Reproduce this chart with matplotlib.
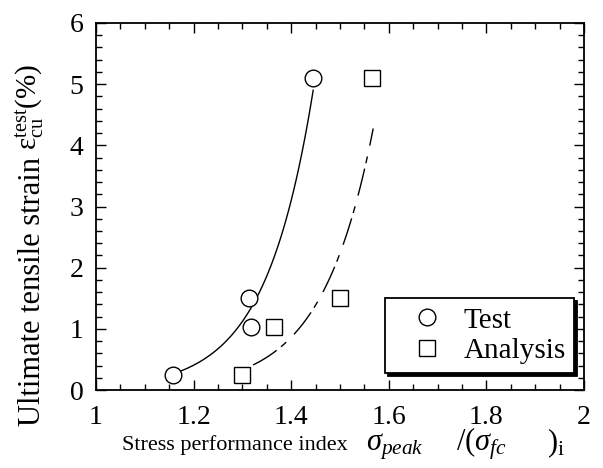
import numpy as np
import matplotlib
matplotlib.use('Agg')
import matplotlib.pyplot as plt
from matplotlib.ticker import MultipleLocator

plt.rcParams['font.family'] = ['Liberation Serif', 'DejaVu Serif']
plt.rcParams['mathtext.fontset'] = 'custom'
plt.rcParams['mathtext.rm'] = 'Liberation Serif'
plt.rcParams['mathtext.it'] = 'Liberation Serif:italic'

# data
test_x = [1.157, 1.313, 1.317, 1.445]
test_y = [0.25, 1.50, 1.03, 5.10]
anal_x = [1.300, 1.365, 1.499, 1.566]
anal_y = [0.25, 1.03, 1.50, 5.10]

# fitted exponential curves y = a*exp(b*(x-x0))
test_fit = (0.27, 10.17, 1.16, 1.445)   # a, b, x0, x1
anal_fit = (0.41, 9.53, 1.322, 1.568)

W, H = 603, 468
fig = plt.figure(figsize=(W / 100, H / 100), dpi=100)
ax = fig.add_axes([96 / W, 1 - 390 / H, 488 / W, 367 / H])

def fit_curve(p):
    a, b, x0, x1 = p
    xs = np.linspace(x0, x1, 100)
    return xs, a * np.exp(b * (xs - x0))

xs, ys = fit_curve(test_fit)
ax.plot(xs, ys, color='black', lw=1.0)
xs, ys = fit_curve(anal_fit)
ax.plot(xs, ys, color='black', lw=1.0, dashes=(20, 4, 5, 8))

ax.plot(test_x, test_y, 'o', ms=12, mfc='white', mec='black', mew=1.0,
        label='Test', zorder=3)
ax.plot(anal_x, anal_y, 's', ms=11, mfc='white', mec='black', mew=1.0,
        label='Analysis', zorder=3)

ax.set_xlim(1, 2)
ax.set_ylim(0, 6)
ax.xaxis.set_minor_locator(MultipleLocator(0.05))
ax.yaxis.set_major_locator(MultipleLocator(1))
ax.yaxis.set_minor_locator(MultipleLocator(0.2))
ax.set_xticks([1, 1.2, 1.4, 1.6, 1.8, 2])
ax.set_xticklabels(['1', '1.2', '1.4', '1.6', '1.8', '2'])
ax.tick_params(which='both', direction='in', top=True, right=True,
               labelsize=20, width=1.0)
ax.tick_params(which='major', length=7)
ax.tick_params(which='minor', length=4)
ax.tick_params(axis='x', pad=11)
ax.tick_params(axis='y', pad=9)
for s in ax.spines.values():
    s.set_linewidth(1.3)

def px(x, y):
    return x / W, 1 - y / H

# x label: plain text and the larger math part
fig.text(*px(122, 450), 'Stress performance index', fontsize=16,
         va='baseline', ha='left')
fig.text(*px(366, 451), r'$\sigma_{peak}$', fontsize=22, va='baseline', ha='left')
fig.text(*px(456, 451), r'/($\sigma_{fc}$', fontsize=22, va='baseline', ha='left')
fig.text(*px(547, 451), r')$_{\rm i}$', fontsize=22, va='baseline', ha='left')

# y label: plain text and the math part
fig.text(*px(33, 426), 'Ultimate tensile strain', fontsize=22, rotation=90,
         ha='center', va='bottom')
fig.text(*px(30, 150), r'ε$^{\rm test}_{\rm cu}$(%)', fontsize=21, rotation=90,
         ha='center', va='bottom')

leg = ax.legend(loc='lower right', bbox_to_anchor=(0.98, 0.046), fontsize=21,
                frameon=True, fancybox=False, edgecolor='black',
                shadow={'color': 'black', 'alpha': 1.0},
                handletextpad=0.12, borderpad=0.3, labelspacing=0.15,
                handlelength=2.25, borderaxespad=0)
leg.get_frame().set_linewidth(1.3)

fig.savefig('out.png', dpi=100)
